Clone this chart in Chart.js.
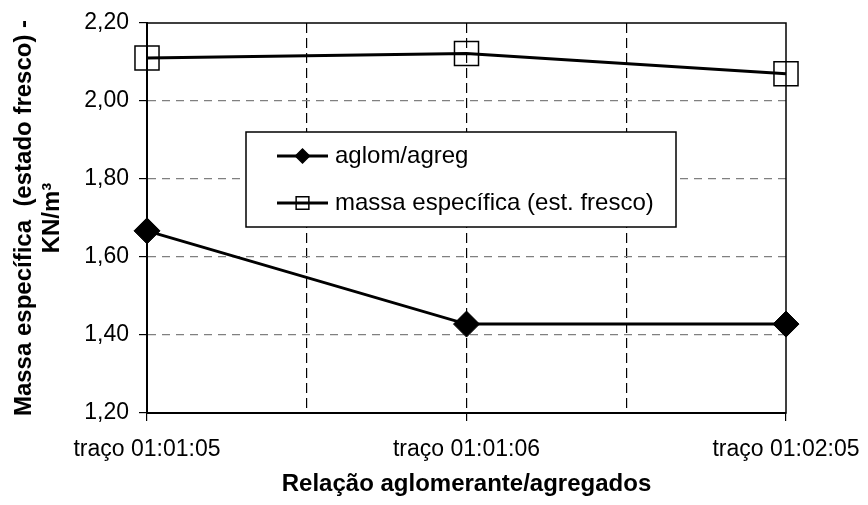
<!DOCTYPE html>
<html>
<head>
<meta charset="utf-8">
<script src="https://cdn.jsdelivr.net/npm/chart.js@4"></script>
<style>
  body { margin: 0; background: #fff; }
  #wrap { width: 868px; height: 505px; }
</style>
</head>
<body>
<div id="wrap"><canvas id="grafico"></canvas></div>
<script>
// Datos
const categorias = ['traço 01:01:05', 'traço 01:01:06', 'traço 01:02:05'];
const aglomAgreg = [1.667, 1.428, 1.428];
const massaFresco = [2.11, 2.122, 2.07];
const serieNomes = ['aglom/agreg', 'massa específica (est. fresco)'];
const yTicks = [1.2, 1.4, 1.6, 1.8, 2.0, 2.2];

const FONTE = '"Liberation Sans", Arial, sans-serif';

// Borde del área del gráfico
const bordeArea = {
    id: 'bordeArea',
    beforeDatasetsDraw(chart) {
        const { ctx, chartArea: a } = chart;
        ctx.save();
        ctx.strokeStyle = '#000';
        ctx.lineWidth = 1.5;
        ctx.strokeRect(a.left, a.top, a.right - a.left, a.bottom - a.top);
        ctx.restore();
    }
};

// Leyenda dibujada dentro del área, como en el original
const leyendaInterna = {
    id: 'leyendaInterna',
    afterDatasetsDraw(chart) {
        const ctx = chart.ctx;
        const caja = { x: 246, y: 132, w: 430, h: 95 };
        ctx.save();
        ctx.fillStyle = '#fff';
        ctx.fillRect(caja.x, caja.y, caja.w, caja.h);
        ctx.strokeStyle = '#000';
        ctx.lineWidth = 1.5;
        ctx.strokeRect(caja.x, caja.y, caja.w, caja.h);

        const filas = [156, 203];
        chart.data.datasets.forEach((ds, i) => {
            const y = filas[i];
            ctx.strokeStyle = '#000';
            ctx.lineWidth = 3;
            ctx.beginPath();
            ctx.moveTo(277, y);
            ctx.lineTo(328, y);
            ctx.stroke();

            ctx.fillStyle = ds.pointBackgroundColor;
            ctx.strokeStyle = '#000';
            ctx.lineWidth = 1.5;
            Chart.helpers.drawPoint(ctx, {
                pointStyle: ds.pointStyle,
                radius: i === 0 ? 7 : 9,
                rotation: 0,
                borderWidth: 1.5
            }, 302.5, y);

            ctx.fillStyle = '#000';
            ctx.font = '24px ' + FONTE;
            ctx.textBaseline = 'middle';
            ctx.textAlign = 'left';
            ctx.fillText(ds.label, 335, y);
        });
        ctx.restore();
    }
};

const toPuntos = (valores) => valores.map((v, i) => ({ x: i, y: v }));
const coma = (v) => v.toFixed(2).replace('.', ',');

new Chart(document.getElementById('grafico'), {
    type: 'line',
    data: {
        datasets: [
            {
                label: serieNomes[0],
                data: toPuntos(aglomAgreg),
                borderColor: '#000',
                borderWidth: 3,
                pointStyle: 'rectRot',
                pointRadius: 13,
                pointBackgroundColor: '#000',
                pointBorderColor: '#000',
                pointBorderWidth: 1,
                clip: false
            },
            {
                label: serieNomes[1],
                data: toPuntos(massaFresco),
                borderColor: '#000',
                borderWidth: 3,
                pointStyle: 'rect',
                pointRadius: 17,
                pointBackgroundColor: 'rgba(0,0,0,0)',
                pointBorderColor: '#000',
                pointBorderWidth: 1.5,
                clip: false
            }
        ]
    },
    options: {
        responsive: true,
        maintainAspectRatio: false,
        animation: false,
        events: [],
        layout: { padding: { top: 23, right: 82, left: 0, bottom: 0 } },
        plugins: {
            legend: { display: false },
            tooltip: { enabled: false }
        },
        scales: {
            x: {
                type: 'linear',
                min: 0,
                max: categorias.length - 1,
                afterFit: (s) => {
                    s.height = 92;
                    // el área del gráfico la fija el padding del layout
                    s.paddingLeft = 0;
                    s.paddingRight = 0;
                },
                ticks: {
                    stepSize: 0.5,
                    autoSkip: false,
                    maxRotation: 0,
                    padding: 15,
                    color: '#000',
                    font: { family: FONTE, size: 23 },
                    callback: (v) => Number.isInteger(v) ? categorias[v] : ''
                },
                grid: {
                    color: (c) => (c.tick && c.tick.value > 0 && c.tick.value < categorias.length - 1) ? '#000' : 'rgba(0,0,0,0)',
                    lineWidth: 1.2,
                    tickColor: (c) => (c.tick && Number.isInteger(c.tick.value)) ? '#000' : 'rgba(0,0,0,0)',
                    tickLength: 8,
                    tickWidth: 1.2
                },
                border: { display: true, color: '#000', width: 2, dash: [10, 5] },
                title: {
                    display: true,
                    text: 'Relação aglomerante/agregados',
                    color: '#000',
                    font: { family: FONTE, size: 24, weight: 'bold' },
                    padding: { top: 0, bottom: 6 }
                }
            },
            y: {
                min: yTicks[0],
                max: yTicks[yTicks.length - 1],
                afterFit: (s) => {
                    s.width = 147;
                    s.paddingTop = 0;
                    s.paddingBottom = 0;
                },
                afterBuildTicks: (s) => { s.ticks = yTicks.map(v => ({ value: v })); },
                ticks: {
                    padding: 10,
                    color: '#000',
                    font: { family: FONTE, size: 23 },
                    callback: (v) => coma(v)
                },
                grid: {
                    color: (c) => (c.tick && c.tick.value > yTicks[0] + 0.01 && c.tick.value < yTicks[yTicks.length - 1] - 0.01) ? '#808080' : 'rgba(0,0,0,0)',
                    lineWidth: 1.2,
                    tickColor: '#000',
                    tickLength: 8,
                    tickWidth: 1.2
                },
                border: { display: true, color: '#000', width: 2, dash: [8, 6] },
                title: {
                    display: true,
                    text: ['Massa específica  (estado fresco) -', 'KN/m³'],
                    color: '#000',
                    font: { family: FONTE, size: 24, weight: 'bold', lineHeight: 1.167 },
                    padding: { top: 10.5, bottom: 0 }
                }
            }
        }
    },
    plugins: [bordeArea, leyendaInterna]
});
</script>
</body>
</html>
